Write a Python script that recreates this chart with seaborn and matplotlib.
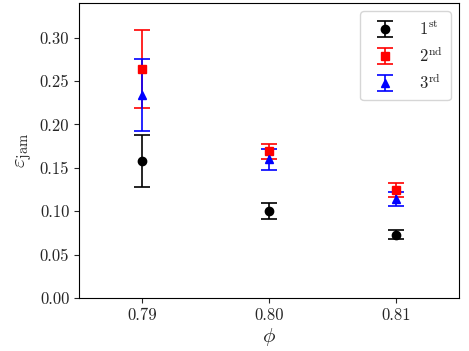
import numpy as np
import matplotlib
matplotlib.use("Agg")
import matplotlib.pyplot as plt
import seaborn as sns

# values
phi = [0.79, 0.80, 0.81]
labels = [r"$1^{\rm st}$", r"$2^{\rm nd}$", r"$3^{\rm rd}$"]
eps_1st = [0.158, 0.100, 0.073]
err_1st = [0.030, 0.009, 0.005]
eps_2nd = [0.264, 0.169, 0.124]
err_2nd = [0.045, 0.009, 0.008]
eps_3rd = [0.234, 0.160, 0.1145]
err_3rd = [0.042, 0.012, 0.008]

sns.set_style("ticks")
plt.rcParams["font.family"] = "serif"
plt.rcParams["font.serif"] = ["cmr10", "DejaVu Serif"]
plt.rcParams["mathtext.fontset"] = "cm"
plt.rcParams["axes.unicode_minus"] = False
plt.rcParams["axes.formatter.use_mathtext"] = True

fig = plt.figure(figsize=(4.69, 3.51), dpi=100)
ax = fig.add_axes([0.1684, 0.151, 0.8103, 0.8405])

styles = [("black", "o", 6.0), ("red", "s", 5.5), ("blue", "^", 6.0)]
series = [(eps_1st, err_1st), (eps_2nd, err_2nd), (eps_3rd, err_3rd)]
for (y, e), (c, m, ms), lab in zip(series, styles, labels):
    ax.errorbar(phi, y, yerr=e, fmt=m, color=c, ms=ms, capsize=6,
                elinewidth=1.2, capthick=1.2, label=lab)

ax.set_xlim(0.785, 0.815)
ax.set_ylim(0, 0.34)
ax.set_xticks(phi)
ax.set_xticklabels(["0.79", "0.80", "0.81"])
ax.set_yticks(np.arange(0, 0.31, 0.05))
ax.set_yticklabels([f"{v:.2f}" for v in np.arange(0, 0.31, 0.05)])
ax.tick_params(labelsize=12, direction="out", length=3.5, width=0.8)
ax.set_xlabel(r"$\phi$", fontsize=15, labelpad=2)
ax.set_ylabel(r"$\varepsilon_{\rm jam}$", fontsize=15)
for s in ax.spines.values():
    s.set_linewidth(0.8)
    s.set_color("black")
ax.legend(loc="upper right", fontsize=12, borderpad=0.5, labelspacing=0.45,
          handletextpad=1.0)

fig.savefig("out.png", dpi=100)
